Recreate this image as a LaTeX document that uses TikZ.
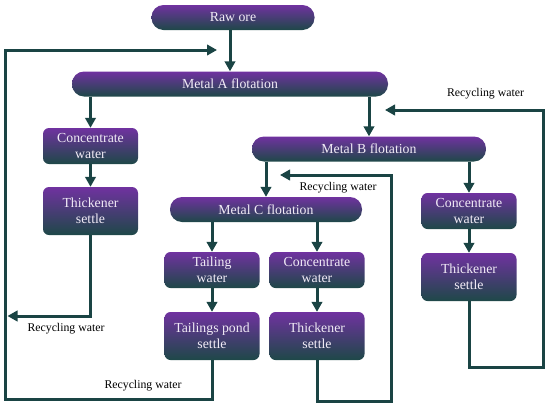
\documentclass[tikz,border=0pt]{standalone}
\usepackage{fontspec}
\setmainfont{Liberation Serif}
\usepackage{xcolor}
\usepackage{tikz}
\usetikzlibrary{arrows.meta,positioning,calc}
\definecolor{orepurple}{RGB}{112,50,160}
\definecolor{oreteal}{RGB}{30,72,72}
\definecolor{flowcol}{RGB}{26,68,68}

\begin{document}
\begin{tikzpicture}[x=1pt, y=-1pt,
  font=\fontsize{13.8}{16}\selectfont, >={Triangle[length=10pt,width=10.5pt]},
  box/.style={rounded corners=6pt, align=center, inner sep=0pt, top color=orepurple, bottom color=oreteal, text=white!90!orepurple, minimum width=95pt, minimum height=36pt},
  pill/.style={box, rounded corners=12pt, minimum height=25pt},
  tallbox/.style={box, minimum height=48pt},
  flow/.style={->, draw=flowcol, line width=3pt},
  lbl/.style={font=\fontsize{11.8}{13}\selectfont, text=black},
]
\useasboundingbox (0,0) rectangle (550,405);

\node[pill, minimum width=163pt] (rawore) at (233,17.5) {Raw ore};
\node[pill, minimum width=316pt] (metalA) at (230,84) {Metal A flotation};
\node[box] (concA) at (90.5,146) {Concentrate\\water};
\node[tallbox] (thickA) at (90.5,211) {Thickener\\settle};

\node[pill, minimum width=234pt] (metalB) at (369,149) {Metal B flotation};
\node[box] (concB) at (469,211) {Concentrate\\water};
\node[tallbox] (thickB) at (469,277) {Thickener\\settle};

\node[pill, minimum width=192pt] (metalC) at (266,209.5) {Metal C flotation};
\node[box] (tailw) at (212,270) {Tailing\\water};
\node[tallbox] (tailp) at (212,336) {Tailings pond\\settle};
\node[box] (concC) at (317,270) {Concentrate\\water};
\node[tallbox] (thickC) at (317,336) {Thickener\\settle};

% main flow
\draw[flow] (metalA.north |- rawore.south) -- (metalA.north);
\draw[flow] (metalA.south -| concA) -- (concA.north);
\draw[flow] (concA) -- (thickA);
\draw[flow] (metalA.south -| metalB) -- (metalB.north);
\draw[flow] (metalB.south -| metalC) -- (metalC.north);
\draw[flow] (metalB.south -| concB) -- (concB.north);
\draw[flow] (concB) -- (thickB);
\draw[flow] (metalC.south -| tailw) -- (tailw.north);
\draw[flow] (tailw) -- (tailp);
\draw[flow] (metalC.south -| concC) -- (concC.north);
\draw[flow] (concC) -- (thickC);

% recycling water loops
\coordinate (recA) at (7.5,316);
\coordinate (recB) at (385,110);
\coordinate (recC) at (280,175);
\coordinate (recD) at (217,50);
\draw[flow] (thickA.south) |- (recA);
\draw[flow] (thickB.south) |- (543,367) |- (recB);
\draw[flow] (thickC.south) |- (391,401) |- (recC);
\draw[flow] (tailp.south) |- (5,399) |- (recD);

\node[lbl] (lblA) at (66,329) {Recycling water};
\node[lbl] (lblB) at (485.5,94) {Recycling water};
\node[lbl] (lblC) at (338,188) {Recycling water};
\node[lbl] (lblD) at (143,386) {Recycling water};
\end{tikzpicture}
\end{document}
